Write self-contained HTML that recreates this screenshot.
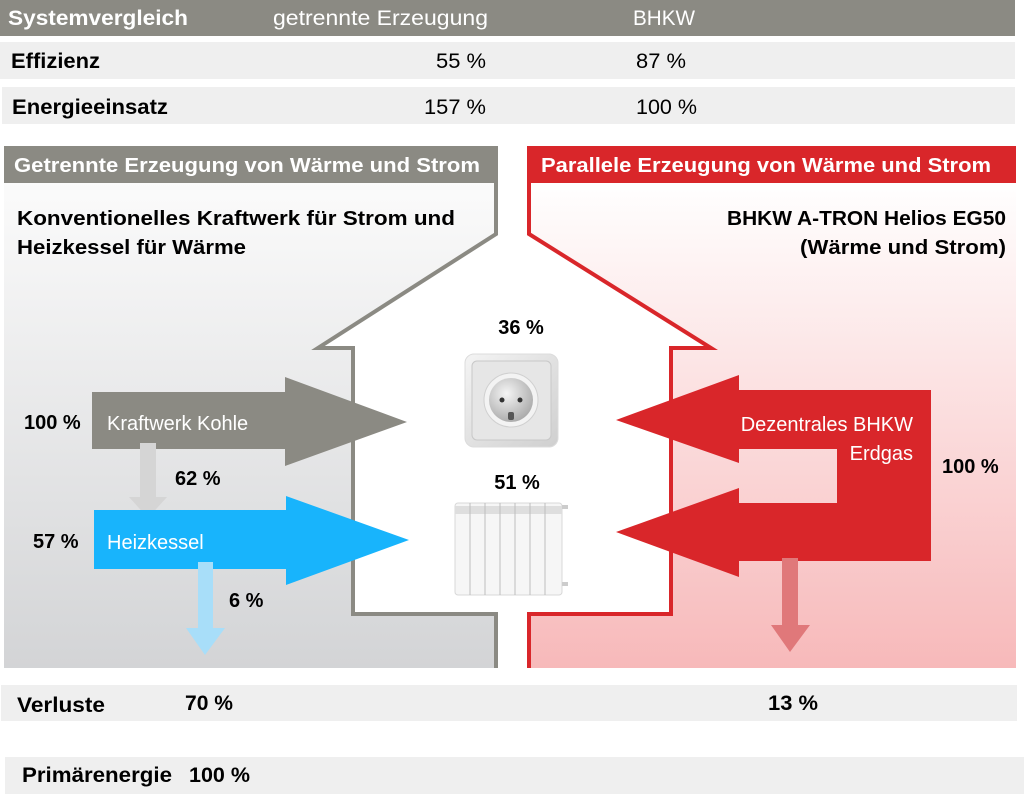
<!DOCTYPE html>
<html><head><meta charset="utf-8"><style>
html,body{margin:0;padding:0;background:#fff;}
svg{display:block;}
text{font-family:"Liberation Sans",sans-serif;}
</style></head><body>
<svg width="1024" height="794" viewBox="0 0 1024 794" xmlns="http://www.w3.org/2000/svg">
<defs>
<linearGradient id="gl" x1="0" y1="0" x2="0" y2="1"><stop offset="0" stop-color="#fbfbfb"/><stop offset="1" stop-color="#d3d4d6"/></linearGradient>
<linearGradient id="gr" x1="0" y1="0" x2="0" y2="1"><stop offset="0" stop-color="#ffffff"/><stop offset="1" stop-color="#f7b9ba"/></linearGradient>
<linearGradient id="so" x1="0" y1="0" x2="1" y2="1"><stop offset="0" stop-color="#f4f4f4"/><stop offset="1" stop-color="#cfcfcf"/></linearGradient>
<radialGradient id="sc" cx="0.4" cy="0.35" r="0.7"><stop offset="0" stop-color="#f5f5f5"/><stop offset="1" stop-color="#a8a8a8"/></radialGradient>
</defs>

<rect x="0" y="0" width="1015" height="36" fill="#8b8a83"/>
<rect x="0" y="42" width="1015" height="37" fill="#efefef"/>
<rect x="2" y="87" width="1013" height="37" fill="#efefef"/>
<g font-size="21">
<text x="8" y="25" fill="#fff" font-weight="bold" textLength="180" lengthAdjust="spacingAndGlyphs">Systemvergleich</text>
<text x="273" y="25" fill="#fff" textLength="215" lengthAdjust="spacingAndGlyphs">getrennte Erzeugung</text>
<text x="633" y="25" fill="#fff" textLength="62" lengthAdjust="spacingAndGlyphs">BHKW</text>
<text x="11" y="68" font-weight="bold" textLength="89" lengthAdjust="spacingAndGlyphs">Effizienz</text>
<text x="436" y="68" textLength="50" lengthAdjust="spacingAndGlyphs">55 %</text>
<text x="636" y="68" textLength="50" lengthAdjust="spacingAndGlyphs">87 %</text>
<text x="12" y="114" font-weight="bold" textLength="156" lengthAdjust="spacingAndGlyphs">Energieeinsatz</text>
<text x="424" y="114" textLength="62" lengthAdjust="spacingAndGlyphs">157 %</text>
<text x="636" y="114" textLength="61" lengthAdjust="spacingAndGlyphs">100 %</text>
</g>

<path d="M4 181 H496 V234 L318 348 H353 V614 H496 V668 H4 Z" fill="url(#gl)"/>
<path d="M496 181 V234 L318 348 H353 V614 H496 V668" fill="none" stroke="#8b8a83" stroke-width="4"/>
<rect x="4" y="146" width="494" height="37" fill="#8b8a83"/>
<text x="14" y="172" fill="#fff" font-size="20" font-weight="bold" textLength="466" lengthAdjust="spacingAndGlyphs">Getrennte Erzeugung von Wärme und Strom</text>
<text x="17" y="225" font-size="20" font-weight="bold" textLength="438" lengthAdjust="spacingAndGlyphs">Konventionelles Kraftwerk für Strom und</text>
<text x="17" y="254" font-size="20" font-weight="bold" textLength="229" lengthAdjust="spacingAndGlyphs">Heizkessel für Wärme</text>

<path d="M529 181 H1016 V668 H529 V614 H671 V348 H711 L529 234 Z" fill="url(#gr)"/>
<path d="M529 181 V234 L711 348 H671 V614 H529 V668" fill="none" stroke="#d9262a" stroke-width="4"/>
<rect x="527" y="146" width="489" height="37" fill="#d9262a"/>
<text x="541" y="172" fill="#fff" font-size="20" font-weight="bold" textLength="450" lengthAdjust="spacingAndGlyphs">Parallele Erzeugung von Wärme und Strom</text>
<text x="1006" y="225" text-anchor="end" font-size="20" font-weight="bold" textLength="279" lengthAdjust="spacingAndGlyphs">BHKW A-TRON Helios EG50</text>
<text x="1006" y="254" text-anchor="end" font-size="20" font-weight="bold" textLength="206" lengthAdjust="spacingAndGlyphs">(Wärme und Strom)</text>

<path d="M92 392 H285 V377 L407 422 L285 466 V449 H92 Z" fill="#8b8a83"/>
<path d="M140 443 H156 V497 H167 L148 518 L129 497 H140 Z" fill="#d5d5d5"/>
<path d="M94 510 H286 V496 L409 540 L286 585 V569 H94 Z" fill="#18b4fc"/>
<path d="M198 562 H213 V628 H225 L205 655 L186 628 H198 Z" fill="#a8def9"/>

<text x="24" y="429" font-size="20" font-weight="bold">100 %</text>
<text x="107" y="430" font-size="20" fill="#fff">Kraftwerk Kohle</text>
<text x="175" y="485" font-size="20" font-weight="bold">62 %</text>
<text x="33" y="548" font-size="20" font-weight="bold">57 %</text>
<text x="107" y="549" font-size="20" fill="#fff">Heizkessel</text>
<text x="229" y="607" font-size="20" font-weight="bold">6 %</text>

<path d="M931 390 V561 H739 V577 L616 532 L739 488 V503 H837 V449 H739 V463 L616 420 L739 375 V390 Z" fill="#d9262a"/>
<path d="M782 558 H798 V625 H810 L790 652 L771 625 H782 Z" fill="#e0787a"/>
<text x="913" y="431" text-anchor="end" font-size="20" fill="#fff">Dezentrales BHKW</text>
<text x="913" y="460" text-anchor="end" font-size="20" fill="#fff">Erdgas</text>
<text x="942" y="473" font-size="20" font-weight="bold">100 %</text>

<text x="521" y="334" text-anchor="middle" font-size="20" font-weight="bold">36 %</text>
<text x="517" y="489" text-anchor="middle" font-size="20" font-weight="bold">51 %</text>

<rect x="465" y="354" width="93" height="93" rx="9" fill="url(#so)" stroke="#dcdcdc"/>
<rect x="472" y="361" width="79" height="79" rx="5" fill="#e6e6e6" stroke="#c8c8c8"/>
<circle cx="511" cy="400" r="27" fill="#f3f3f3" stroke="#d0d0d0"/>
<circle cx="511" cy="400" r="22" fill="url(#sc)"/>
<circle cx="502" cy="400" r="2.5" fill="#333"/>
<circle cx="520" cy="400" r="2.5" fill="#333"/>
<rect x="508" y="412" width="6" height="8" rx="2" fill="#555"/>

<g>
<rect x="455" y="503" width="107" height="92" rx="3" fill="#f6f6f6" stroke="#d8d8d8"/>
<rect x="455" y="506" width="107" height="8" fill="#dedede"/>
<g stroke="#bdbdbd" stroke-width="1">
<line x1="470" y1="503" x2="470" y2="595"/><line x1="485" y1="503" x2="485" y2="595"/>
<line x1="500" y1="503" x2="500" y2="595"/><line x1="515" y1="503" x2="515" y2="595"/>
<line x1="530" y1="503" x2="530" y2="595"/><line x1="545" y1="503" x2="545" y2="595"/>
</g>
<rect x="562" y="505" width="6" height="4" fill="#ccc"/>
<rect x="562" y="582" width="6" height="4" fill="#ccc"/>
</g>

<rect x="1" y="685" width="1016" height="36" fill="#efefef"/>
<rect x="5" y="757" width="1019" height="37" fill="#efefef"/>
<g font-size="21" font-weight="bold">
<text x="17" y="712" textLength="88" lengthAdjust="spacingAndGlyphs">Verluste</text>
<text x="185" y="710" textLength="48" lengthAdjust="spacingAndGlyphs">70 %</text>
<text x="768" y="710" textLength="50" lengthAdjust="spacingAndGlyphs">13 %</text>
<text x="22" y="782" textLength="150" lengthAdjust="spacingAndGlyphs">Primärenergie</text>
<text x="189" y="782" textLength="61" lengthAdjust="spacingAndGlyphs">100 %</text>
</g>
</svg>
</body></html>
